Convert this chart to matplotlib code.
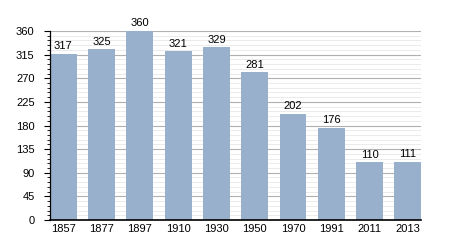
import numpy as np
import matplotlib
matplotlib.use("Agg")
import matplotlib.pyplot as plt
from matplotlib.ticker import MultipleLocator

years = ["1857", "1877", "1897", "1910", "1930", "1950", "1970", "1991", "2011", "2013"]
population = [317, 325, 360, 321, 329, 281, 202, 176, 110, 111]

plt.rcParams['font.family'] = ['Liberation Sans', 'DejaVu Sans']

fig = plt.figure(figsize=(4.5, 2.5), dpi=100)
ax = fig.add_axes([0.111, 0.12, 0.825, 0.756])

x = np.arange(len(years))
ax.bar(x, population, width=0.7, color="#98b0cc", zorder=3)
for xi, v in zip(x, population):
    ax.text(xi, v + 5, str(v), ha="center", va="bottom", fontsize=8, zorder=4)

ax.set_xlim(-0.35, len(years) - 0.65)
ax.set_ylim(0, 360)
ax.set_xticks(x)
ax.set_xticklabels(years, fontsize=8)
ax.yaxis.set_major_locator(MultipleLocator(45))
ax.yaxis.set_minor_locator(MultipleLocator(9))
ax.tick_params(axis="y", labelsize=8, length=4, width=0.8, pad=7)
ax.tick_params(axis="y", which="minor", length=2, width=0.6)
ax.tick_params(axis="x", length=0, pad=3)

ax.grid(axis="y", which="major", color="#b0b0b0", linewidth=0.8, zorder=0)
ax.grid(axis="y", which="minor", color="#e8e8e8", linewidth=0.6, zorder=0)

for s in ["top", "right"]:
    ax.spines[s].set_visible(False)
ax.spines["left"].set_linewidth(0.9)
ax.spines["bottom"].set_linewidth(1.2)
ax.spines["bottom"].set_zorder(5)
ax.spines["left"].set_zorder(5)

fig.savefig("out.png", dpi=100)
